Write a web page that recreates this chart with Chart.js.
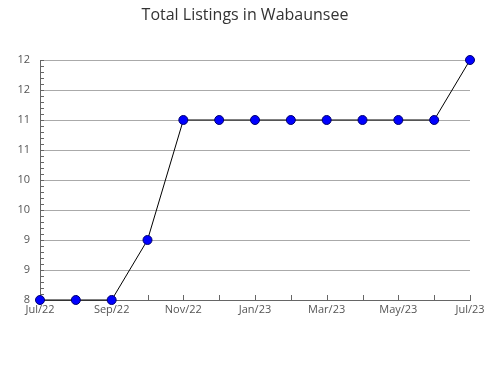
<!DOCTYPE html>
<html lang="en">
<head>
  <meta charset="UTF-8">
  <title>Total Listings in Wabaunsee</title>
  <script src="https://cdn.jsdelivr.net/npm/chart.js"></script>
  <style>
    html, body { margin: 0; padding: 0; background: #fff; }
    #wrap { width: 490px; height: 380px; }
  </style>
</head>
<body>
  <div id="wrap"><canvas id="listingsChart" width="490" height="380"></canvas></div>

  <script>
    // Данные графика
    const months = ['Jul/22', 'Aug/22', 'Sep/22', 'Oct/22', 'Nov/22', 'Dec/22', 'Jan/23',
                    'Feb/23', 'Mar/23', 'Apr/23', 'May/23', 'Jun/23', 'Jul/23'];
    const listings = [8, 8, 8, 9, 11, 11, 11, 11, 11, 11, 11, 11, 12];
    const yTickLabels = ['8', '9', '9', '10', '10', '11', '11', '12', '12'];

    // Маленькие засечки внутри области графика
    const innerTicks = {
      id: 'innerTicks',
      beforeDatasetsDraw(chart) {
        const { ctx, chartArea, scales } = chart;
        ctx.save();
        ctx.strokeStyle = '#666';
        ctx.lineWidth = 1;
        ctx.beginPath();
        for (let v = 80; v <= 120; v++) {
          const py = Math.round(scales.y.getPixelForValue(v / 10)) + 0.5;
          ctx.moveTo(chartArea.left, py);
          ctx.lineTo(chartArea.left + 4, py);
        }
        months.forEach((m, i) => {
          const px = Math.round(scales.x.getPixelForValue(i)) + 0.5;
          ctx.moveTo(px, chartArea.bottom);
          ctx.lineTo(px, chartArea.bottom - 5);
        });
        ctx.stroke();
        ctx.restore();
      }
    };

    const font = { family: '"Open Sans", sans-serif', size: 11 };

    new Chart(document.getElementById('listingsChart').getContext('2d'), {
      type: 'line',
      data: {
        labels: months,
        datasets: [{
          data: listings,
          borderColor: '#000',
          borderWidth: 1,
          tension: 0,
          pointRadius: 4.5,
          pointHoverRadius: 4.5,
          pointBackgroundColor: '#0000ff',
          pointBorderColor: '#00006e',
          pointBorderWidth: 1,
          clip: false
        }]
      },
      options: {
        responsive: false,
        animation: false,
        layout: { padding: 0 },
        plugins: {
          legend: { display: false },
          tooltip: { enabled: false },
          title: {
            display: true,
            text: 'Total Listings in Wabaunsee',
            color: '#333',
            font: { family: '"Open Sans", sans-serif', size: 16, weight: 'normal' },
            padding: { top: 6, bottom: 34.8 }
          }
        },
        scales: {
          x: {
            afterFit: s => { s.height = 80; },
            grid: { display: false, drawTicks: false },
            border: { display: true, color: '#666' },
            ticks: {
              autoSkip: false,
              maxRotation: 0,
              padding: 3,
              color: '#555',
              font: font,
              callback: (v, i) => (i % 2 === 0 ? months[i] : '')
            }
          },
          y: {
            min: 8,
            max: 12,
            afterFit: s => { s.width = 40; },
            grid: { color: '#aaa', drawTicks: false },
            border: { display: true, color: '#666' },
            ticks: {
              stepSize: 0.5,
              padding: 10,
              color: '#555',
              font: font,
              callback: (v, i) => yTickLabels[i]
            }
          },
          // пустая ось справа — только отступ
          yRight: {
            position: 'right',
            min: 8,
            max: 12,
            afterFit: s => { s.width = 20; },
            grid: { display: false },
            border: { display: false },
            ticks: { display: false }
          }
        }
      },
      plugins: [innerTicks]
    });
  </script>
</body>
</html>
